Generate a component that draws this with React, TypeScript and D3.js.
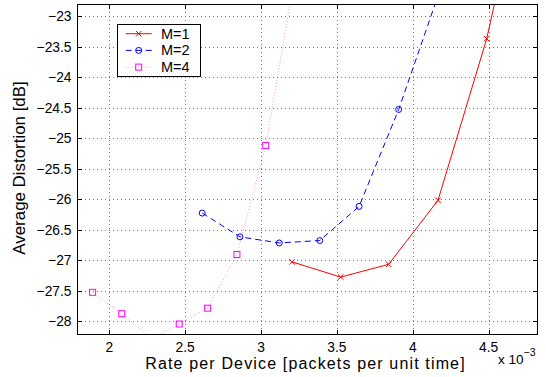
import React from "react";
import * as d3 from "d3";

const m1X = [3.204, 3.525, 3.841, 4.166, 4.487, 4.81];
const m1Y = [-27.03, -27.28, -27.07, -26.02, -23.37, -19.75];
const m2X = [2.612, 2.861, 3.12, 3.387, 3.646, 3.907, 4.168];
const m2Y = [-26.23, -26.62, -26.72, -26.68, -26.12, -24.53, -22.65];
const m4X = [1.89, 2.082, 2.283, 2.461, 2.648, 2.841, 3.031, 3.22];
const m4Y = [-27.53, -27.88, -28.29, -28.05, -27.79, -26.91, -25.12, -22.38];

const xTicks = [2, 2.5, 3, 3.5, 4, 4.5];
const yTicks = [-23, -23.5, -24, -24.5, -25, -25.5, -26, -26.5, -27, -27.5, -28];
const legendLabels = ["M=1", "M=2", "M=4"];

const W = 546, H = 377;
const L = 77, R = 538, T = 4, B = 335;

export default function App() {
  const x = d3.scaleLinear().domain([1.787, 4.825]).range([L, R]);
  const y = d3.scaleLinear().domain([-28.23, -22.8]).range([B, T]);
  const line = d3.line<[number, number]>().x(d => x(d[0])).y(d => y(d[1]));
  const fmt = (v: number) => (v < 0 ? "\u2212" : "") + String(Math.abs(v));
  const zip = (a: number[], b: number[]) => a.map((v, i) => [v, b[i]] as [number, number]);
  const s1 = zip(m1X, m1Y), s2 = zip(m2X, m2Y), s4 = zip(m4X, m4Y);
  const font = "Liberation Sans, Arial, sans-serif";

  const xMark = (cx: number, cy: number, k: string) => (
    <g key={k} stroke="#ff0000" strokeWidth={1}>
      <line x1={cx - 2.8} y1={cy - 2.8} x2={cx + 2.8} y2={cy + 2.8} />
      <line x1={cx - 2.8} y1={cy + 2.8} x2={cx + 2.8} y2={cy - 2.8} />
    </g>
  );
  const oMark = (cx: number, cy: number, k: string) => (
    <circle key={k} cx={cx} cy={cy} r={3} fill="none" stroke="#0000ff" strokeWidth={1} />
  );
  const sMark = (cx: number, cy: number, k: string) => (
    <rect key={k} x={cx - 3} y={cy - 3} width={6} height={6} fill="none" stroke="#ff00ff" strokeWidth={1} />
  );

  return (
    <svg width={W} height={H} style={{ position: "absolute", left: 0, top: 0, background: "#fff" }} fontFamily={font}>
      <defs>
        <clipPath id="plot"><rect x={L} y={T} width={R - L} height={B - T} /></clipPath>
      </defs>
      <rect x={0} y={0} width={W} height={H} fill="#fff" />
      {/* grid */}
      <g stroke="#777" strokeWidth={1} strokeDasharray="1,3">
        {xTicks.map(t => <line key={"gx" + t} x1={Math.round(x(t)) + 0.5} x2={Math.round(x(t)) + 0.5} y1={T} y2={B} />)}
        {yTicks.map(t => <line key={"gy" + t} y1={Math.round(y(t)) + 0.5} y2={Math.round(y(t)) + 0.5} x1={L} x2={R} />)}
      </g>
      {/* ticks */}
      <g stroke="#000" strokeWidth={1}>
        {xTicks.map(t => {
          const px = Math.round(x(t)) + 0.5;
          return <g key={"tx" + t}><line x1={px} x2={px} y1={B} y2={B - 5} /><line x1={px} x2={px} y1={T} y2={T + 5} /></g>;
        })}
        {yTicks.map(t => {
          const py = Math.round(y(t)) + 0.5;
          return <g key={"ty" + t}><line y1={py} y2={py} x1={L} x2={L + 5} /><line y1={py} y2={py} x1={R} x2={R - 5} /></g>;
        })}
      </g>
      <g clipPath="url(#plot)">
        <path d={line(s4) || ""} fill="none" stroke="#ff00ff" strokeOpacity={0.45} strokeWidth={1} strokeDasharray="1,2" />
        <path d={line(s2) || ""} fill="none" stroke="#0000ff" strokeWidth={1} strokeDasharray="6,4" />
        <path d={line(s1) || ""} fill="none" stroke="#ff0000" strokeWidth={1} />
        {s4.map((d, i) => sMark(x(d[0]), y(d[1]), "s" + i))}
        {s2.map((d, i) => oMark(x(d[0]), y(d[1]), "o" + i))}
        {s1.map((d, i) => xMark(x(d[0]), y(d[1]), "x" + i))}
      </g>
      <rect x={L + 0.5} y={T + 0.5} width={R - L - 1} height={B - T - 1} fill="none" stroke="#000" strokeWidth={1} />
      {/* tick labels */}
      <g fontSize={13.8} fill="#000">
        {xTicks.map(t => <text key={"lx" + t} x={x(t)} y={352} textAnchor="middle">{fmt(t)}</text>)}
        {yTicks.map(t => <text key={"ly" + t} x={71.5} y={y(t) + 5} textAnchor="end">{fmt(t)}</text>)}
      </g>
      <text x={(L + R) / 2 - 2} y={368.5} textAnchor="middle" fontSize={16} letterSpacing={1.15}>Rate per Device [packets per unit time]</text>
      <text x={498} y={364} fontSize={13.5}>x 10<tspan dy={-8} fontSize={10.5}>{"\u22123"}</tspan></text>
      <text transform={`translate(25,168) rotate(-90)`} textAnchor="middle" fontSize={16.9}>Average Distortion [dB]</text>
      {/* legend */}
      <g>
        <rect x={117.5} y={24.5} width={83} height={52} fill="#fff" stroke="#000" strokeWidth={1} />
        {legendLabels.map((lab, i) => {
          const ly = 33.7 + i * 16.7;
          const stroke = i === 0 ? "#ff0000" : i === 1 ? "#0000ff" : "#ff00ff";
          const dash = i === 0 ? undefined : i === 1 ? "6,4" : "1,2";
          return (
            <g key={lab}>
              <line x1={125.7} x2={151.7} y1={ly} y2={ly} stroke={stroke} strokeDasharray={dash} strokeOpacity={i === 2 ? 0.45 : 1} />
              {i === 0 ? xMark(138.7, ly, "lx") : i === 1 ? oMark(138.7, ly, "lo") : sMark(138.7, ly, "ls")}
              <text x={161} y={ly + 5} fontSize={14.5}>{lab}</text>
            </g>
          );
        })}
      </g>
    </svg>
  );
}
